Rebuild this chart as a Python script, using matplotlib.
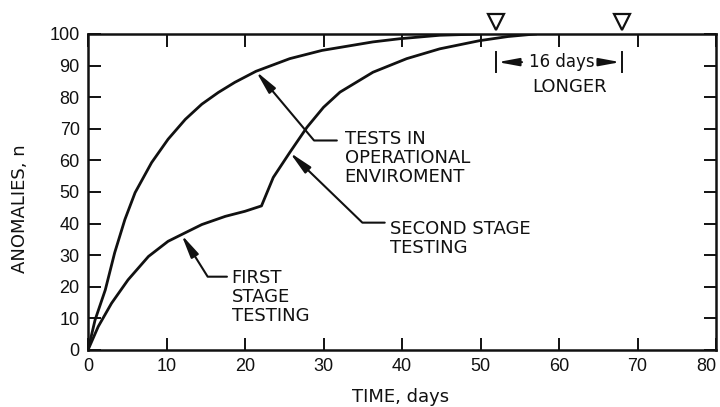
import numpy as np
import matplotlib
matplotlib.use("Agg")
import matplotlib.pyplot as plt

# Cumulative anomalies found vs. test time
OPS_DAYS = [0, 0.9, 2.2, 3.4, 4.7, 6.0, 8.1, 10.2, 12.4, 14.5, 16.6, 18.7, 21.4,
            25.7, 29.8, 36.3, 39.7, 44.8, 50]
OPS_ANOMALIES = [0, 9.5, 19, 30.8, 41.3, 49.8, 59.3, 66.7, 73, 77.8, 81.5, 84.7, 88.2,
                 92.2, 94.8, 97.5, 98.5, 99.6, 100]

STAGED_DAYS = [0, 1.3, 3.0, 5.1, 7.7, 10.2, 11.9, 14.5, 17.5, 20, 22.1, 23.6, 25.7,
               27.9, 30, 32.1, 36.3, 40.6, 44.8, 49.9, 53.5, 57]
STAGED_ANOMALIES = [0, 7.4, 14.8, 22.2, 29.6, 34.4, 36.5, 39.7, 42.3, 43.9, 45.6, 54.6, 62.5,
                    70.5, 76.8, 81.6, 87.9, 92.2, 95.3, 97.9, 99.2, 100]

# completion markers (days)
DONE_DAYS = [52, 68]

X_TICKS = [0, 10, 20, 30, 40, 50, 60, 70, 80]
Y_TICKS = [0, 10, 20, 30, 40, 50, 60, 70, 80, 90, 100]

INK = "#111111"
TEXT_FONT = ["DejaVu Sans"]
DIGIT_FONT = ["Liberation Sans Narrow", "Liberation Sans", "DejaVu Sans"]
HEAD = "-|>,head_length=0.7,head_width=0.13"


def on_curve(days, values, x):
    return x, float(np.interp(x, days, values))


def leader(ax, tip, start, angle):
    ax.annotate("", xy=tip, xytext=start,
                arrowprops=dict(arrowstyle=HEAD, color=INK, lw=1.5,
                                mutation_scale=20, shrinkA=0, shrinkB=0,
                                connectionstyle=f"angle,angleA=0,angleB={angle},rad=0"))


fig = plt.figure(figsize=(7.2, 4.07), dpi=100)
ax = fig.add_axes([88 / 720, 1 - 350 / 407, (716 - 88) / 720, (350 - 34) / 407])

ax.plot(OPS_DAYS, OPS_ANOMALIES, color=INK, lw=2.0, solid_joinstyle="round")
ax.plot(STAGED_DAYS, STAGED_ANOMALIES, color=INK, lw=2.0, solid_joinstyle="round")

ax.set_xlim(0, 80)
ax.set_ylim(0, 100)
ax.set_xticks(X_TICKS)
ax.set_yticks(Y_TICKS)
xlabels = ax.set_xticklabels([str(t) for t in X_TICKS], family=DIGIT_FONT, fontsize=13)
xlabels[-1].set_horizontalalignment("right")
ax.set_yticklabels([str(t) for t in Y_TICKS], family=DIGIT_FONT, fontsize=13)
ax.tick_params(direction="in", length=9, width=1.4, top=True, right=True, colors=INK)
ax.tick_params(axis="x", pad=6)
ax.tick_params(axis="y", pad=6)
for s in ax.spines.values():
    s.set_linewidth(1.8)
    s.set_color(INK)

fig.text(401 / 720, 1 - 397 / 407, "TIME, days", ha="center", va="center",
         fontsize=13, family=TEXT_FONT, color=INK)
fig.text(20 / 720, 1 - 209 / 407, "ANOMALIES, n", ha="center", va="center",
         rotation=90, fontsize=13, family=TEXT_FONT, color=INK)

# curve call-outs
leader(ax, on_curve(OPS_DAYS, OPS_ANOMALIES, 21.4), (31.7, 66.3), 130)
ax.text(32.7, 69.6, "TESTS IN\nOPERATIONAL\nENVIROMENT", ha="left", va="top",
        fontsize=13, family=TEXT_FONT, color=INK, linespacing=1.08)

leader(ax, on_curve(STAGED_DAYS, STAGED_ANOMALIES, 25.7), (37.8, 40.3), 136)
ax.text(38.5, 41.0, "SECOND STAGE\nTESTING", ha="left", va="top",
        fontsize=13, family=TEXT_FONT, color=INK, linespacing=1.05)

leader(ax, on_curve(STAGED_DAYS, STAGED_ANOMALIES, 11.9), (17.7, 23.2), 122)
ax.text(18.3, 25.6, "FIRST\nSTAGE\nTESTING", ha="left", va="top",
        fontsize=13, family=TEXT_FONT, color=INK, linespacing=1.05)

# completion markers above the frame
ax.plot(DONE_DAYS, [103.9, 103.9], ls="none", marker="v", ms=12,
        mfc="white", mec=INK, mew=1.6, clip_on=False)

# gap dimension between completion points
gap = DONE_DAYS[1] - DONE_DAYS[0]
for d in DONE_DAYS:
    ax.plot([d, d], [88, 94.3], color=INK, lw=1.4)
ax.annotate("", xy=(DONE_DAYS[0] + 0.2, 91.1), xytext=(55.3, 91.1),
            arrowprops=dict(arrowstyle=HEAD, color=INK, lw=1.4, mutation_scale=18,
                            shrinkA=0, shrinkB=0))
ax.annotate("", xy=(DONE_DAYS[1] - 0.2, 91.1), xytext=(65.2, 91.1),
            arrowprops=dict(arrowstyle=HEAD, color=INK, lw=1.4, mutation_scale=18,
                            shrinkA=0, shrinkB=0))
ax.text(60.3, 91.1, f"{gap} days", ha="center", va="center",
        fontsize=12, family=TEXT_FONT, color=INK)
ax.text(61.3, 83.2, "LONGER", ha="center", va="center",
        fontsize=13, family=TEXT_FONT, color=INK)

fig.savefig("out.png", dpi=100)
